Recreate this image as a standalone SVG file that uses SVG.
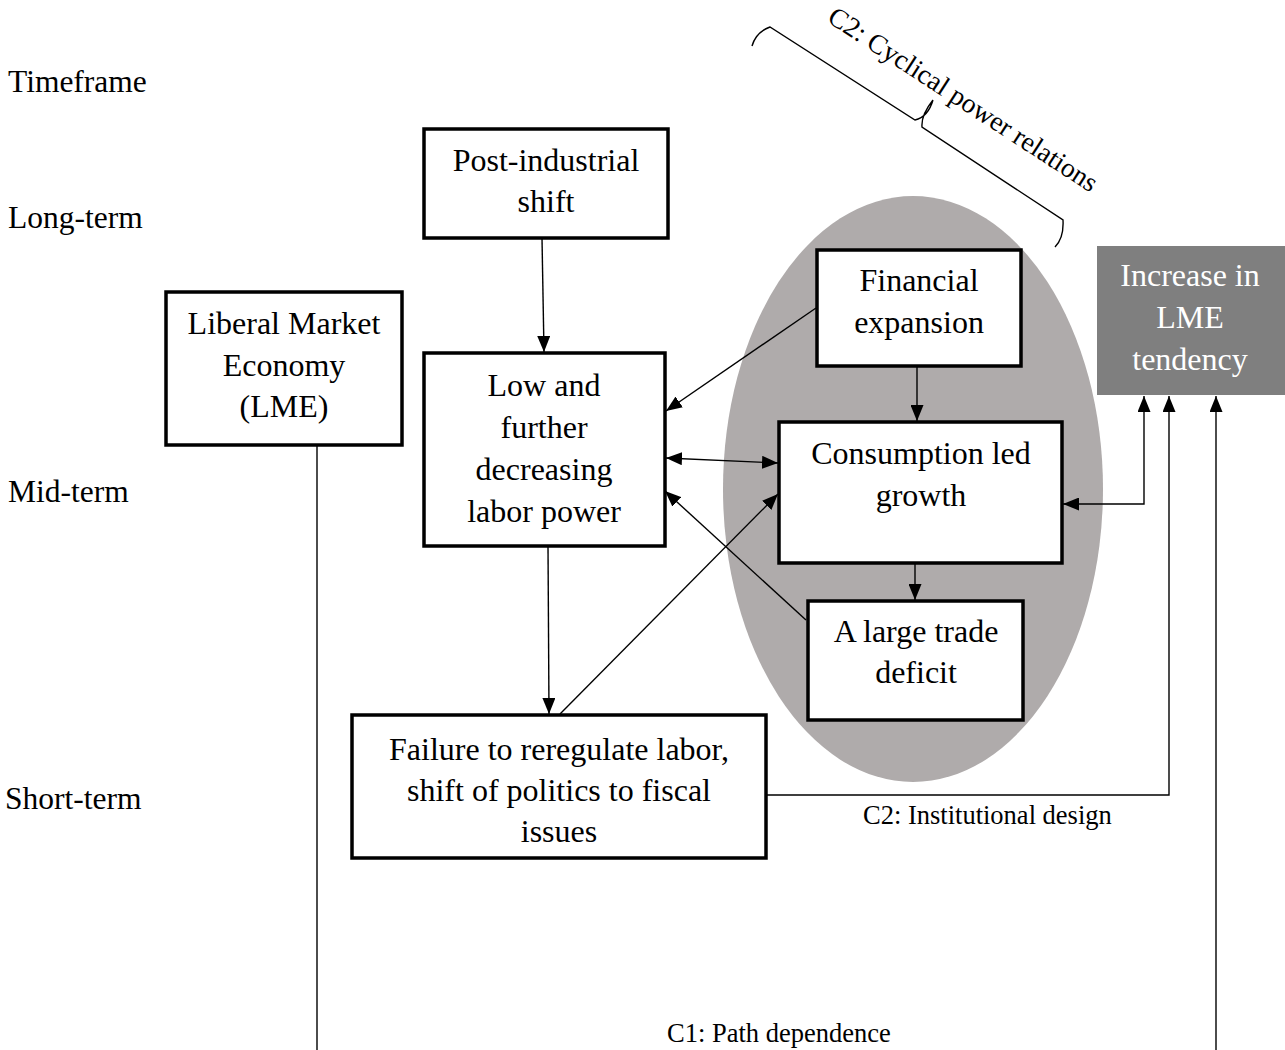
<svg xmlns="http://www.w3.org/2000/svg" width="1285" height="1050" viewBox="0 0 1285 1050">
<defs>
<marker id="ah" viewBox="0 0 16 13" refX="16" refY="6.5" markerWidth="16" markerHeight="13" markerUnits="userSpaceOnUse" orient="auto-start-reverse">
<path d="M0,0 L16,6.5 L0,13 Z" fill="#000"/>
</marker>
<style>
text { font-family: "Liberation Serif", "Times New Roman", serif; fill: #000; }
.box { fill: #fff; stroke: #000; stroke-width: 3.5; }
.t { font-size: 32px; text-anchor: middle; }
.side { font-size: 31.5px; }
.lbl { font-size: 26.5px; }
.rot { font-size: 27.5px; }
.c { fill: none; stroke: #000; stroke-width: 1.4; }
.a { marker-end: url(#ah); }
.aa { marker-start: url(#ah); marker-end: url(#ah); }
.w { fill: #fff; }
</style>
</defs>
<rect width="1285" height="1050" fill="#fff"/>

<g id="ellipse"><ellipse cx="913" cy="489" rx="190" ry="293" fill="#afabab"/></g>

<g id="timeframe-labels">
<text class="side" x="8" y="92">Timeframe</text>
<text class="side" x="8" y="228">Long-term</text>
<text class="side" x="8" y="502">Mid-term</text>
<text class="side" x="5" y="809">Short-term</text>
</g>

<g id="brace">
<path class="c" d="M752,46 Q756,32 770,27 L915,120 Q928,117 933,100 M933,100 Q921,115 922,127 L1063,220 Q1064,238 1055,247"/>
<text class="rot" x="826" y="21" transform="rotate(33 826 21)">C2: Cyclical power relations</text>
</g>

<g id="connectors">
<line class="c a" x1="542" y1="238" x2="544" y2="352"/>
<line class="c a" x1="816" y1="308" x2="666" y2="411"/>
<line class="c a" x1="917" y1="366" x2="917" y2="421"/>
<line class="c aa" x1="666" y1="458" x2="778" y2="463"/>
<line class="c a" x1="806" y1="620" x2="665" y2="491"/>
<line class="c a" x1="560" y1="714" x2="778" y2="494"/>
<line class="c a" x1="548" y1="546" x2="549" y2="714"/>
<line class="c a" x1="915" y1="563" x2="915" y2="600"/>
<polyline class="c aa" points="1063,504 1144,504 1144,396"/>
<polyline class="c a" points="766,795 1169,795 1169,396"/>
<line class="c" x1="317" y1="445" x2="317" y2="1050"/>
<line class="c a" x1="1216" y1="1050" x2="1216" y2="396"/>
<text class="lbl" x="863" y="824">C2: Institutional design</text>
<text class="lbl" x="667" y="1042">C1: Path dependence</text>
</g>

<g id="post-industrial">
<rect class="box" x="424" y="129" width="244" height="109"/>
<text class="t" x="546" y="171">Post-industrial</text>
<text class="t" x="546" y="212">shift</text>
</g>

<g id="lme">
<rect class="box" x="166" y="292" width="236" height="153"/>
<text class="t" x="284" y="334">Liberal Market</text>
<text class="t" x="284" y="376">Economy</text>
<text class="t" x="284" y="417">(LME)</text>
</g>

<g id="labor-power">
<rect class="box" x="424" y="353" width="241" height="193"/>
<text class="t" x="544" y="396">Low and</text>
<text class="t" x="544" y="438">further</text>
<text class="t" x="544" y="480">decreasing</text>
<text class="t" x="544" y="522">labor power</text>
</g>

<g id="financial">
<rect class="box" x="817" y="250" width="204" height="116"/>
<text class="t" x="919" y="291">Financial</text>
<text class="t" x="919" y="333">expansion</text>
</g>

<g id="consumption">
<rect class="box" x="779" y="422" width="283" height="141"/>
<text class="t" x="921" y="464">Consumption led</text>
<text class="t" x="921" y="506">growth</text>
</g>

<g id="trade-deficit">
<rect class="box" x="808" y="601" width="215" height="119"/>
<text class="t" x="916" y="642">A large trade</text>
<text class="t" x="916" y="683">deficit</text>
</g>

<g id="failure">
<rect class="box" x="352" y="715" width="414" height="143"/>
<text class="t" x="559" y="760">Failure to reregulate labor,</text>
<text class="t" x="559" y="801">shift of politics to fiscal</text>
<text class="t" x="559" y="842">issues</text>
</g>

<g id="lme-tendency">
<rect x="1097" y="246" width="188" height="149" fill="#7f7f7f"/>
<text class="t w" x="1190" y="286">Increase in</text>
<text class="t w" x="1190" y="328">LME</text>
<text class="t w" x="1190" y="370">tendency</text>
</g>
</svg>
